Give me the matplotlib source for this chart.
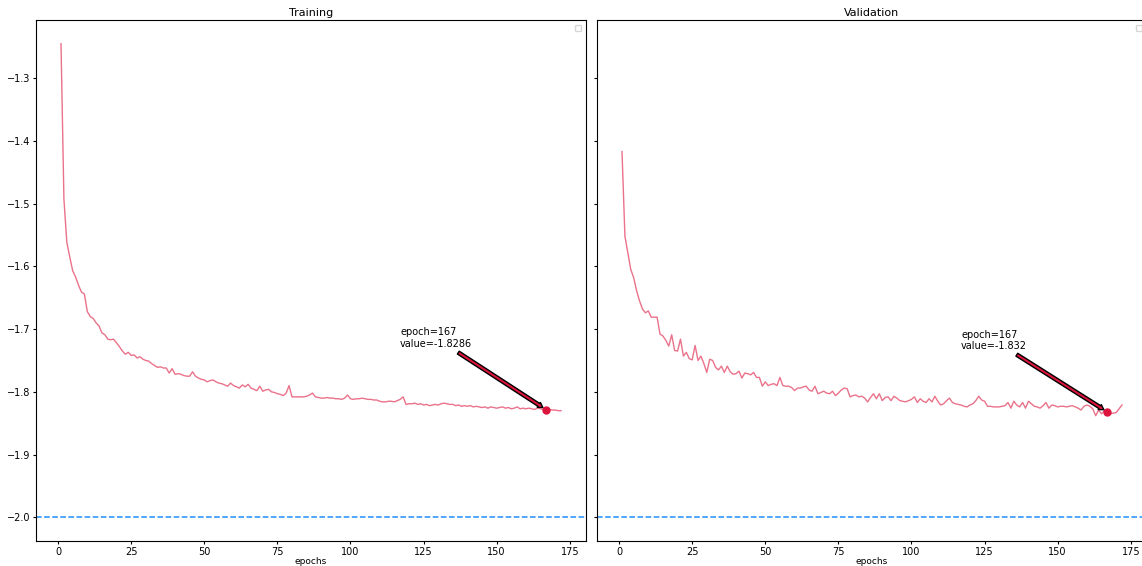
import numpy as np
import matplotlib
matplotlib.use("Agg")
import matplotlib.pyplot as plt

# values
train_loss = [
    -1.245, -1.493, -1.562, -1.585, -1.607, -1.617, -1.630, -1.641, -1.644, -1.672,
    -1.680, -1.683, -1.690, -1.695, -1.706, -1.709, -1.716, -1.717, -1.716, -1.722,
    -1.728, -1.735, -1.740, -1.737, -1.742, -1.741, -1.746, -1.744, -1.748, -1.750,
    -1.751, -1.755, -1.758, -1.761, -1.760, -1.762, -1.762, -1.770, -1.763, -1.772,
    -1.771, -1.772, -1.774, -1.775, -1.775, -1.768, -1.775, -1.778, -1.780, -1.781,
    -1.784, -1.782, -1.781, -1.784, -1.786, -1.787, -1.789, -1.791, -1.786, -1.790,
    -1.792, -1.794, -1.789, -1.792, -1.788, -1.794, -1.796, -1.798, -1.791, -1.799,
    -1.797, -1.796, -1.800, -1.801, -1.803, -1.804, -1.806, -1.802, -1.790, -1.808,
    -1.808, -1.808, -1.808, -1.808, -1.807, -1.805, -1.802, -1.808, -1.809, -1.810,
    -1.810, -1.809, -1.810, -1.810, -1.811, -1.811, -1.812, -1.810, -1.805, -1.811,
    -1.812, -1.811, -1.811, -1.810, -1.811, -1.812, -1.812, -1.813, -1.813, -1.815,
    -1.816, -1.816, -1.815, -1.815, -1.816, -1.814, -1.812, -1.808, -1.820, -1.819,
    -1.819, -1.818, -1.820, -1.819, -1.821, -1.820, -1.822, -1.821, -1.820, -1.821,
    -1.819, -1.818, -1.819, -1.820, -1.820, -1.822, -1.821, -1.823, -1.822, -1.823,
    -1.822, -1.824, -1.823, -1.824, -1.825, -1.824, -1.826, -1.824, -1.825, -1.826,
    -1.825, -1.824, -1.826, -1.825, -1.827, -1.826, -1.824, -1.827, -1.826, -1.827,
    -1.826, -1.827, -1.828, -1.826, -1.827, -1.828, -1.8286, -1.828, -1.829, -1.829,
    -1.830, -1.830,
]

val_loss = [
    -1.417, -1.552, -1.578, -1.605, -1.618, -1.639, -1.655, -1.668, -1.674, -1.671,
    -1.681, -1.681, -1.681, -1.708, -1.711, -1.718, -1.727, -1.709, -1.734, -1.735,
    -1.716, -1.743, -1.737, -1.747, -1.749, -1.726, -1.750, -1.743, -1.755, -1.769,
    -1.748, -1.750, -1.761, -1.765, -1.759, -1.769, -1.759, -1.768, -1.772, -1.771,
    -1.767, -1.778, -1.770, -1.771, -1.773, -1.769, -1.777, -1.777, -1.791, -1.784,
    -1.790, -1.788, -1.787, -1.790, -1.777, -1.790, -1.791, -1.791, -1.793, -1.798,
    -1.794, -1.794, -1.792, -1.791, -1.797, -1.799, -1.791, -1.803, -1.801, -1.799,
    -1.802, -1.803, -1.799, -1.806, -1.802, -1.797, -1.794, -1.795, -1.808, -1.806,
    -1.805, -1.808, -1.807, -1.810, -1.816, -1.809, -1.803, -1.811, -1.803, -1.814,
    -1.809, -1.808, -1.814, -1.807, -1.810, -1.814, -1.815, -1.816, -1.814, -1.812,
    -1.808, -1.817, -1.811, -1.815, -1.817, -1.811, -1.816, -1.807, -1.815, -1.821,
    -1.819, -1.814, -1.810, -1.817, -1.819, -1.820, -1.821, -1.823, -1.824, -1.821,
    -1.819, -1.814, -1.807, -1.813, -1.815, -1.823, -1.823, -1.824, -1.824, -1.824,
    -1.823, -1.822, -1.817, -1.826, -1.815, -1.821, -1.824, -1.817, -1.826, -1.815,
    -1.819, -1.823, -1.824, -1.826, -1.822, -1.817, -1.826, -1.821, -1.822, -1.824,
    -1.823, -1.823, -1.824, -1.823, -1.822, -1.824, -1.826, -1.829, -1.823, -1.821,
    -1.823, -1.827, -1.838, -1.829, -1.835, -1.830, -1.832, -1.835, -1.834, -1.833,
    -1.827, -1.821,
]

best_epoch = 167
target = -2.0
titles = ["Training", "Validation"]

W, H = 1142, 566
fig = plt.figure(figsize=(W / 100, H / 100), dpi=100)
ax1 = fig.add_axes([36 / W, 25 / H, 550 / W, 521 / H])
ax2 = fig.add_axes([597 / W, 25 / H, 550 / W, 521 / H], sharey=ax1)

for ax, series, title in zip([ax1, ax2], [train_loss, val_loss], titles):
    epochs = np.arange(1, len(series) + 1)
    ax.plot(epochs, series, color="crimson", alpha=0.6, lw=1.0)
    ax.axhline(target, color="dodgerblue", ls="--", lw=1.1)
    best_val = series[best_epoch - 1]
    ax.plot([best_epoch], [best_val], "o", color="crimson", ms=5)
    ax.annotate("epoch=%d\nvalue=%s" % (best_epoch, best_val),
                xy=(best_epoch, best_val),
                xytext=(best_epoch - 50, best_val + 0.1),
                fontsize=7,
                arrowprops=dict(arrowstyle="simple,head_length=0.5,head_width=0.6,tail_width=0.35",
                                fc="crimson", ec="black", lw=1.0,
                                shrinkA=1, shrinkB=3))
    ax.set_title(title, fontsize=8, pad=3)
    ax.set_xlabel("epochs", fontsize=6.5, labelpad=0)
    ax.tick_params(labelsize=7, length=2.5, pad=1.5)
    ax.legend(loc="upper right", fontsize=5, borderpad=0.45, borderaxespad=0.7)

ax1.set_yticks([-2.0, -1.9, -1.8, -1.7, -1.6, -1.5, -1.4, -1.3])
ax2.tick_params(labelleft=False)

fig.savefig("out.png", dpi=100)
